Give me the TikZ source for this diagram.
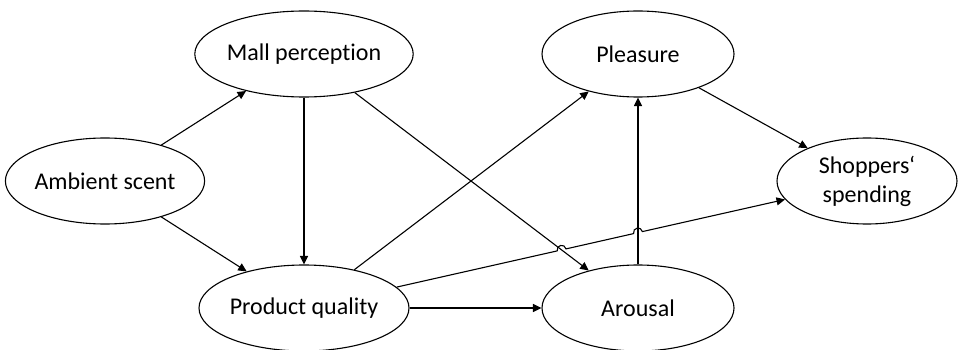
\documentclass[tikz,border=0pt]{standalone}
\usepackage{fontspec}
\setmainfont{Carlito}[Ligatures=NoCommon]
\usetikzlibrary{shapes.geometric,arrows.meta}
\begin{document}
\begin{tikzpicture}[x=1pt,y=-1pt,
  construct/.style={draw=black,line width=1.1pt,ellipse,inner sep=0pt,
    minimum width=192pt,minimum height=86pt,align=center,
    font=\fontsize{24}{29}\selectfont},
  arr/.style={line width=1.1pt,-{Triangle[length=8.5pt,width=8pt]}}]
\useasboundingbox (0,0) rectangle (959,350);

% constructs
\node[construct] (amb)   at (105,181) {Ambient scent};
\node[construct] (mall)  at (304,54)  {Mall perception};
\node[construct] (prod)  at (304,308) {Product quality};
\node[construct] (pleas) at (638,54)  {Pleasure};
\node[construct] (arous) at (638,308) {Arousal};
\node[construct,minimum width=180pt] (shop) at (867,181) {Shoppers‘\\spending};

% hop-over points where quality -> spending crosses two paths
\coordinate (a1) at (557.2,250.9);
\coordinate (c1a) at (555.9,245.0);
\coordinate (c1b) at (564.7,243.0);
\coordinate (b1) at (566.0,248.9);
\coordinate (a2) at (633.6,233.6);
\coordinate (c2a) at (632.3,227.7);
\coordinate (c2b) at (641.1,225.7);
\coordinate (b2) at (642.4,231.6);

% paths
\draw[arr] (amb) -- (mall);
\draw[arr] (amb) -- (prod);
\draw[arr] (mall) -- (prod);
\draw[arr] (mall) -- (arous);
\draw[arr] (prod) -- (pleas);
\draw[arr] (prod) -- (arous);
\draw[arr] (arous) -- (pleas);
\draw[arr] (pleas) -- (shop);
\draw[arr] (prod) -- (a1) .. controls (c1a) and (c1b) .. (b1)
  -- (a2) .. controls (c2a) and (c2b) .. (b2) -- (shop);
\end{tikzpicture}
\end{document}
